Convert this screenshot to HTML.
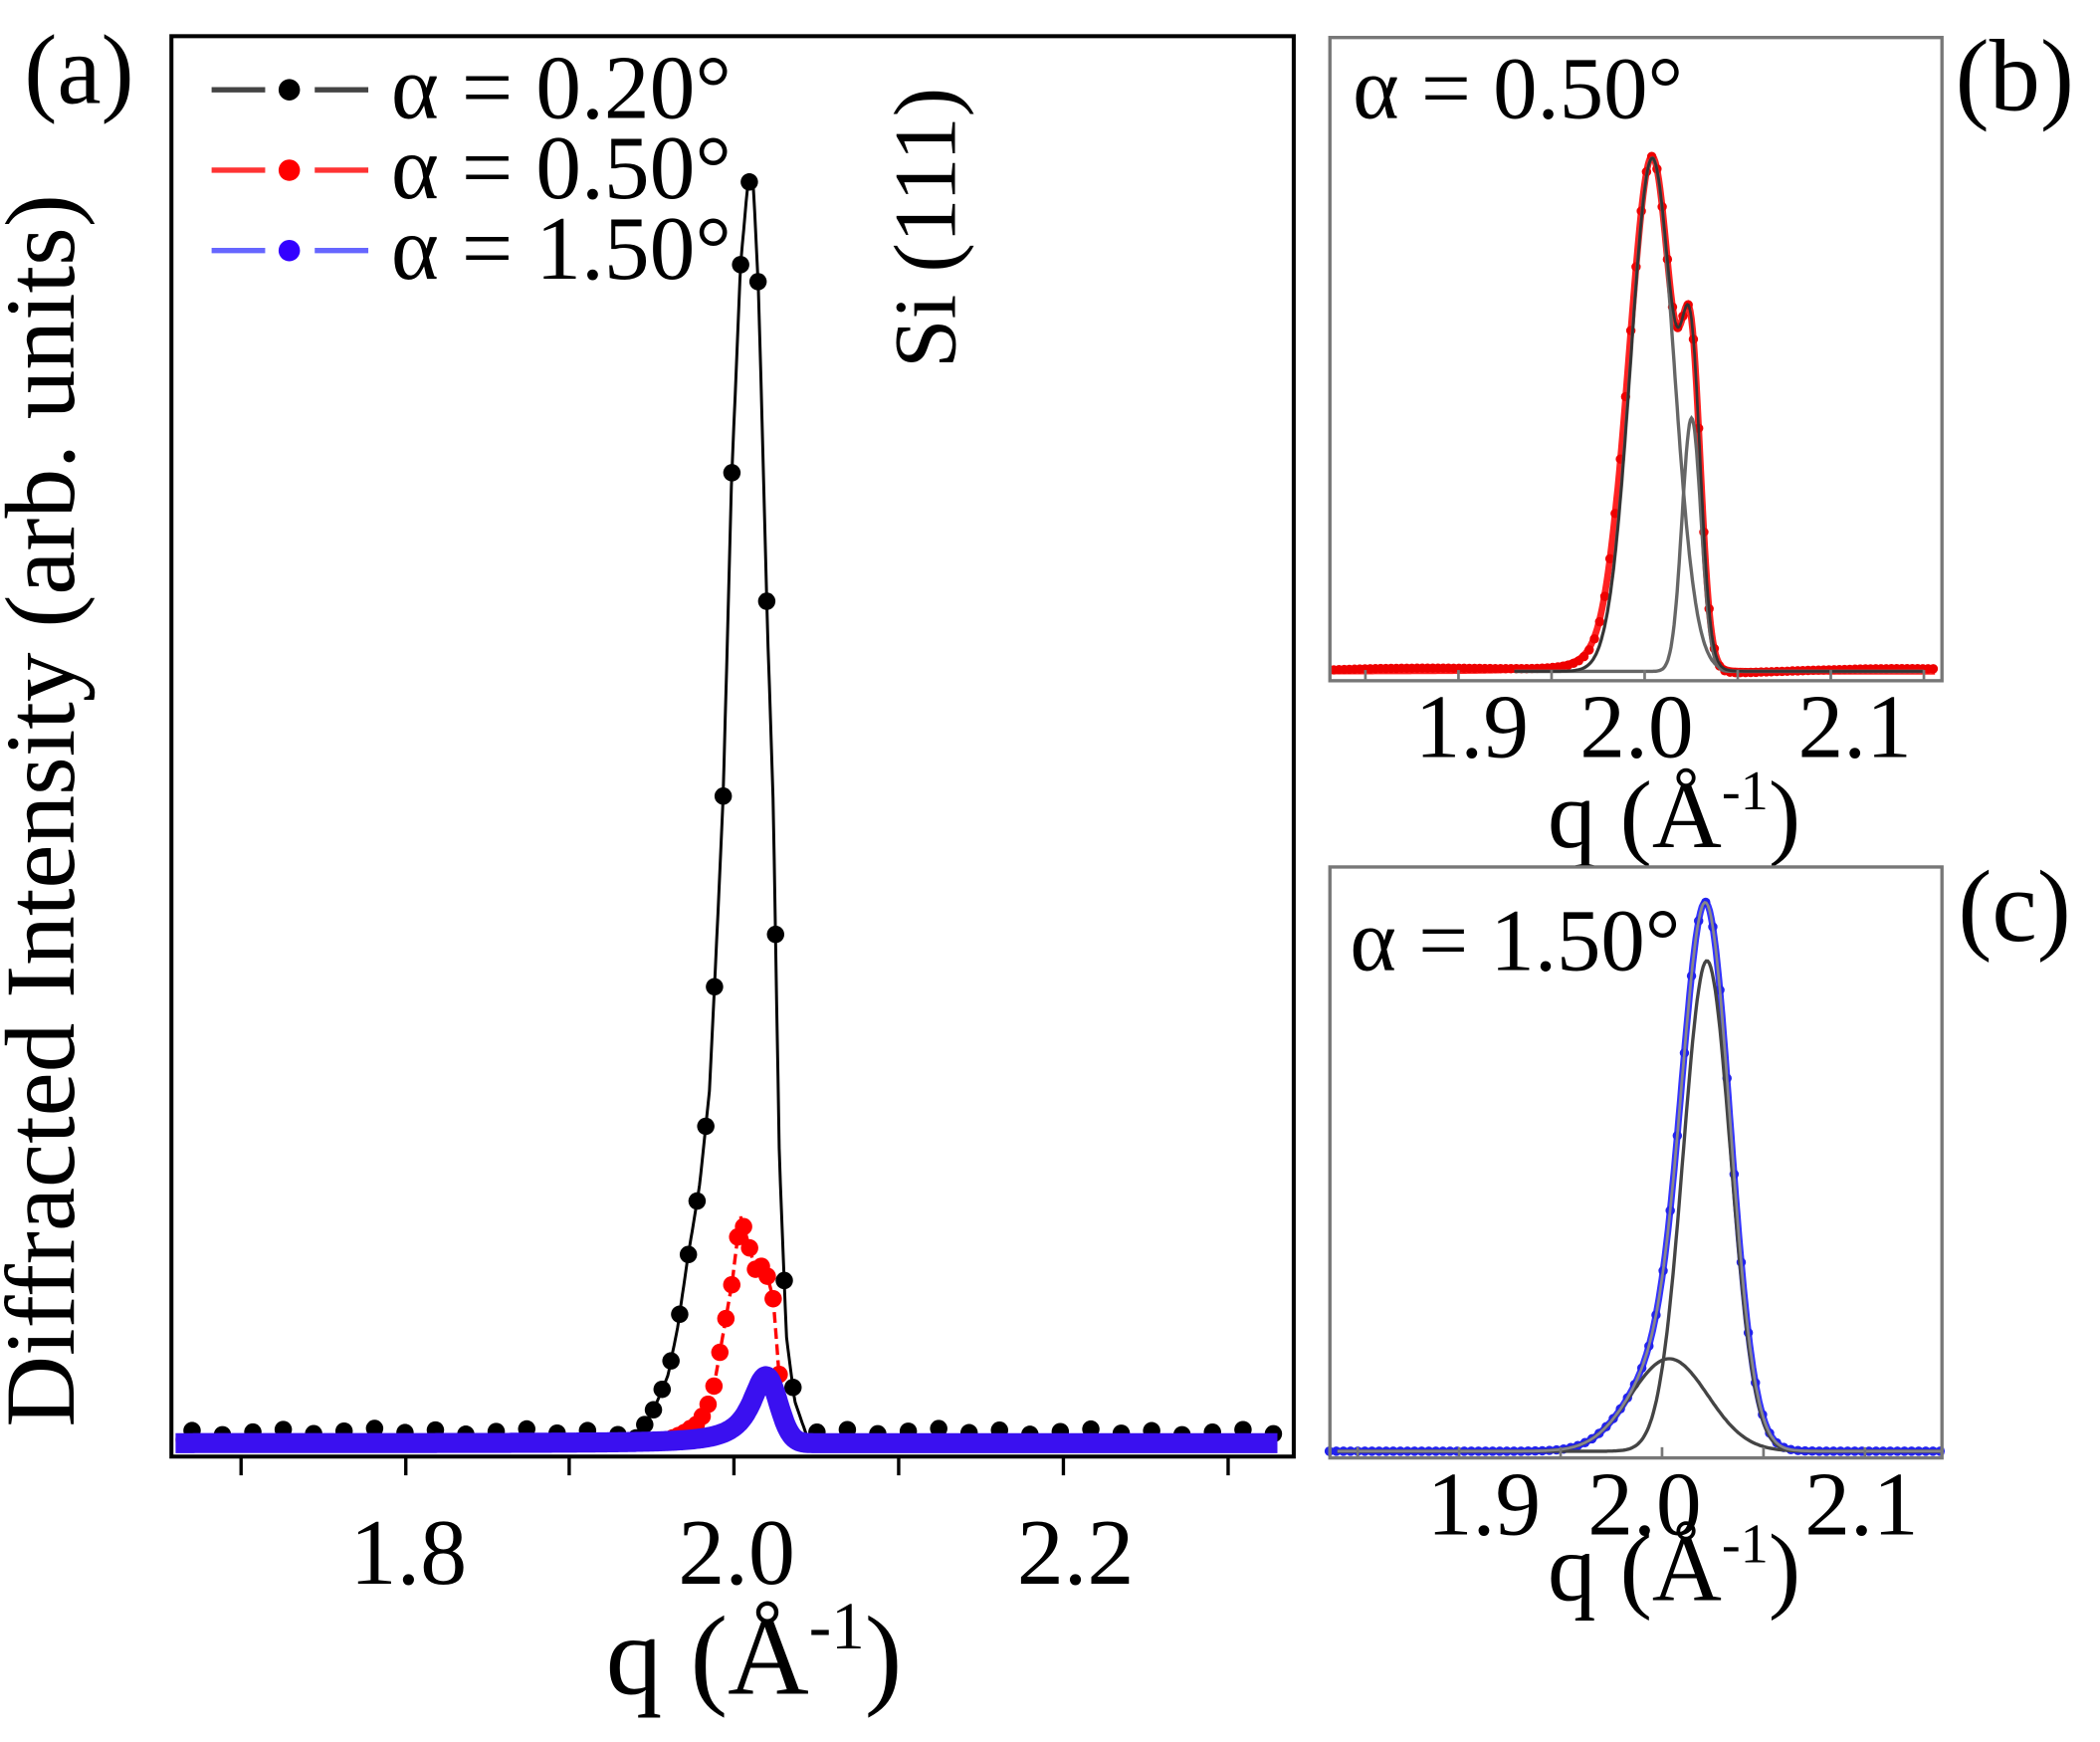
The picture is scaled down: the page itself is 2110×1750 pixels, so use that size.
<!DOCTYPE html>
<html><head><meta charset="utf-8"><style>
html,body{margin:0;padding:0;background:#fff;}
svg{display:block;}
text{font-family:"Liberation Serif",serif;fill:#000;}
</style></head><body>
<svg id="s" xmlns="http://www.w3.org/2000/svg" width="2110" height="1750" viewBox="0 0 1568 1300" preserveAspectRatio="none">
<rect width="1568" height="1300" fill="#fff"/>
<g id="plots"></g>
<rect x="128" y="27" width="838" height="1060" fill="none" stroke="#000" stroke-width="3"/>
<g stroke="#000" stroke-width="2.5">
<line x1="180" y1="1087" x2="180" y2="1101"/><line x1="303" y1="1087" x2="303" y2="1101"/>
<line x1="425" y1="1087" x2="425" y2="1101"/><line x1="548" y1="1087" x2="548" y2="1101"/>
<line x1="671" y1="1087" x2="671" y2="1101"/><line x1="794" y1="1087" x2="794" y2="1101"/>
<line x1="917" y1="1087" x2="917" y2="1101"/>
</g>
<text x="18" y="77" font-size="74">(a)</text>
<text x="55" y="605" font-size="74" text-anchor="middle" textLength="920" lengthAdjust="spacingAndGlyphs" transform="rotate(-90 55 605)">Diffracted Intensity (arb. units)</text>
<text x="713" y="170" font-size="66" text-anchor="middle" transform="rotate(-90 713 170)">Si (111)</text>
<text x="305" y="1182" font-size="70" text-anchor="middle">1.8</text>
<text x="550" y="1182" font-size="70" text-anchor="middle">2.0</text>
<text x="803" y="1182" font-size="70" text-anchor="middle">2.2</text>
<text x="563" y="1264" font-size="84" text-anchor="middle">q (Å<tspan font-size="50" dy="-34">-1</tspan><tspan dy="34">)</tspan></text>
<g stroke-width="4">
<line x1="158" y1="67" x2="198" y2="67" stroke="#444"/><line x1="235" y1="67" x2="275" y2="67" stroke="#444"/>
<line x1="158" y1="127" x2="198" y2="127" stroke="#f33"/><line x1="235" y1="127" x2="275" y2="127" stroke="#f33"/>
<line x1="158" y1="187" x2="198" y2="187" stroke="#66f"/><line x1="235" y1="187" x2="275" y2="187" stroke="#66f"/>
</g>
<circle cx="216" cy="67" r="8" fill="#000"/><circle cx="216" cy="127" r="8" fill="#f00"/><circle cx="216" cy="187" r="8" fill="#30f"/>
<text x="292" y="88" font-size="68">α = 0.20°</text>
<text x="292" y="148" font-size="68">α = 0.50°</text>
<text x="292" y="208" font-size="68">α = 1.50°</text>
<rect x="993" y="28" width="457" height="480" fill="none" stroke="#777" stroke-width="2.5"/>
<text x="1010" y="88" font-size="66">α = 0.50°</text>
<text x="1460" y="82" font-size="76">(b)</text>
<text x="1099" y="565" font-size="68" text-anchor="middle">1.9</text>
<text x="1222" y="565" font-size="68" text-anchor="middle">2.0</text>
<text x="1385" y="565" font-size="68" text-anchor="middle">2.1</text>
<text x="1250" y="632" font-size="72" text-anchor="middle">q (Å<tspan font-size="42" dy="-28">-1</tspan><tspan dy="28">)</tspan></text>
<rect x="993" y="647" width="457" height="441" fill="none" stroke="#777" stroke-width="2.5"/>
<text x="1008" y="724" font-size="66">α = 1.50°</text>
<text x="1462" y="702" font-size="76">(c)</text>
<text x="1108" y="1145" font-size="68" text-anchor="middle">1.9</text>
<text x="1228" y="1145" font-size="68" text-anchor="middle">2.0</text>
<text x="1390" y="1145" font-size="68" text-anchor="middle">2.1</text>
<text x="1250" y="1194" font-size="72" text-anchor="middle">q (Å<tspan font-size="42" dy="-28">-1</tspan><tspan dy="28">)</tspan></text>
</svg>
<script>
(function(){
var g=document.getElementById("plots"),out="";
function interp(pts,d){if(d<=pts[0][0])return pts[0][1];for(var i=1;i<pts.length;i++){if(d<=pts[i][0]){var a=pts[i-1],b=pts[i];return a[1]+(b[1]-a[1])*(d-a[0])/(b[0]-a[0]);}}return pts[pts.length-1][1];}
function path(f,q0,q1,X,n){var s="";for(var i=0;i<=n;i++){var q=q0+(q1-q0)*i/n;s+=(i?"L":"M")+X(q).toFixed(1)+","+f(q).toFixed(1);}return s;}
function G(q,c,s){return Math.exp(-(q-c)*(q-c)/(2*s*s));}
var Xa=function(q){return 303+(q-1.8)*1228;};
var blk=[[-0.33,0],[-0.07,0],[-0.06,.02],[-0.055,.035],[-0.05,.051],[-0.044,.09],[-0.0385,.14],[-0.031,.2],[-0.025,.274],[-0.021,.38],[-0.0165,.51],[-0.0115,.757],[-0.006,.93],[-0.002,.99],[0,1],[0.002,.99],[0.005,.91],[0.0105,.64],[0.014,.5],[0.0176,.224],[0.022,.08],[0.027,.03],[0.035,0],[0.4,0]];
var fb=function(q){return 1074-941*interp(blk,q-2.0095);};
var red=[[-0.4,0],[-0.045,0],[-0.035,.03],[-0.025,.08],[-0.017,.2],[-0.011,.45],[-0.005,.7],[0,1],[0.004,.9],[0.009,.76],[0.0146,.78],[0.02,.63],[0.0235,.3],[0.027,.08],[0.033,0],[0.4,0]];
var fr=function(q){return 1075-168*interp(red,q-2.0034);};
var fbl=function(q){var d=q-2.019;var v=d<0?1/(1+Math.pow(d/0.011,2)):Math.exp(-d*d/(2*0.0075*0.0075));return 1077-50*v;};
out+='<path d="'+path(fb,1.66,2.33,Xa,900)+'" fill="none" stroke="#000" stroke-width="2.2"/>';
var q;
for(q=1.67;q<1.94;q+=0.0185)out+='<circle cx="'+Xa(q).toFixed(1)+'" cy="'+(1066+((q*977)%5)).toFixed(1)+'" r="6.5" fill="#000"/>';
for(q=1.94;q<2.04;q+=0.0053)out+='<circle cx="'+Xa(q).toFixed(1)+'" cy="'+fb(q).toFixed(1)+'" r="6.5" fill="#000"/>';
for(q=2.05;q<2.33;q+=0.0185)out+='<circle cx="'+Xa(q).toFixed(1)+'" cy="'+(1066+((q*977)%5)).toFixed(1)+'" r="6.5" fill="#000"/>';
out+='<path d="'+path(fr,1.66,2.33,Xa,700)+'" fill="none" stroke="#f00" stroke-width="2.5" stroke-dasharray="8,4"/>';
for(q=1.955;q<2.04;q+=0.0036)out+='<circle cx="'+Xa(q).toFixed(1)+'" cy="'+fr(q).toFixed(1)+'" r="6.5" fill="#f00"/>';
out+='<path d="'+path(fbl,1.66,2.33,Xa,700)+'" fill="none" stroke="#3a10f0" stroke-width="15" stroke-linejoin="round"/>';
var Xb=function(q){return 1228+(q-2.0)*1390;};
var b1=function(q){return 383*G(q,2.0041,0.0116);},b2=function(q){return 189*G(q,2.0252,0.0051);};
var bt=function(q){return 30/(1+Math.pow((q-1.985)/0.012,2))*(q<1.99?1:Math.exp(-Math.pow((q-1.99)/0.01,2)));};
var fbT=function(q){return 501-(b1(q)+b2(q)+bt(q));};
out+='<path d="'+path(fbT,1.832,2.156,Xb,500)+'" fill="none" stroke="#f22" stroke-width="5"/>';
for(q=1.833;q<2.156;q+=0.0028){var n=(Math.sin(q*9000)*2);out+='<circle cx="'+Xb(q).toFixed(1)+'" cy="'+(fbT(q)+n*(q<1.98||q>2.04?1:0)).toFixed(1)+'" r="3.5" fill="#e00"/>';}
out+='<path d="'+path(function(q){return 501-b1(q)},1.93,2.15,Xb,400)+'" fill="none" stroke="#666" stroke-width="2.5"/>';
out+='<path d="'+path(function(q){return 501-b2(q)},1.93,2.15,Xb,400)+'" fill="none" stroke="#666" stroke-width="2.5"/>';
out+='<path d="'+path(function(q){return 501-b1(q)-b2(q)},1.93,2.15,Xb,400)+'" fill="none" stroke="#333" stroke-width="2"/>';
var Xc=function(q){return 1241+(q-2.0)*1515;};
var c1=function(q){return 366*G(q,2.0221,0.0117);},c2=function(q){return 69*G(q,2.0035,0.019);};
var fcT=function(q){return 1083-(c1(q)+c2(q));};
out+='<path d="'+path(fcT,1.835,2.139,Xc,400)+'" fill="none" stroke="#33f" stroke-width="5"/>';
for(q=1.836;q<2.139;q+=0.0035){out+='<circle cx="'+Xc(q).toFixed(1)+'" cy="'+fcT(q).toFixed(1)+'" r="3.5" fill="#22e"/>';}
out+='<path d="'+path(function(q){return 1083-c1(q)},1.84,2.138,Xc,400)+'" fill="none" stroke="#444" stroke-width="2.5"/>';
out+='<path d="'+path(function(q){return 1083-c2(q)},1.84,2.138,Xc,400)+'" fill="none" stroke="#444" stroke-width="2.5"/>';
out+='<path d="'+path(fcT,1.84,2.138,Xc,400)+'" fill="none" stroke="#888" stroke-width="2"/>';
[1.9,1.95,2.0,2.05,2.1,1.85,2.15].forEach(function(t){var x=Xb(t);if(x>995&&x<1448)out+='<line x1="'+x+'" y1="508" x2="'+x+'" y2="500" stroke="#777" stroke-width="2"/>';x=Xc(t);if(x>995&&x<1448)out+='<line x1="'+x+'" y1="1088" x2="'+x+'" y2="1080" stroke="#777" stroke-width="2"/>';});
g.innerHTML=out;
})();
</script>
</body></html>
